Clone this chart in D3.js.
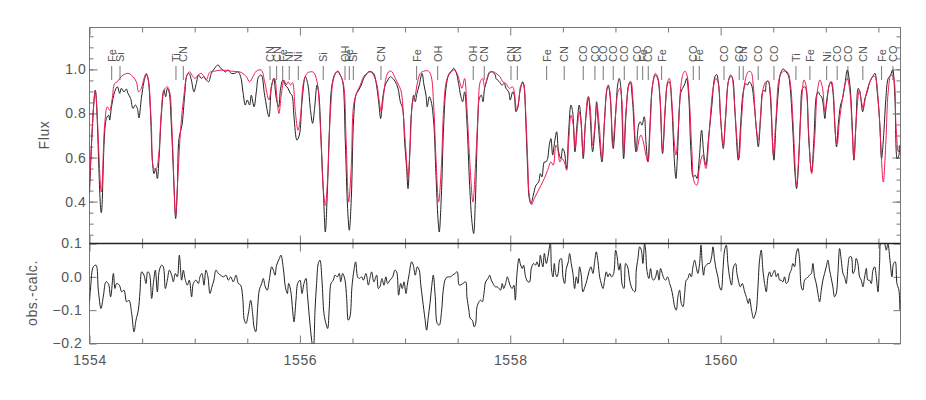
<!DOCTYPE html>
<html>
<head>
<meta charset="utf-8">
<script src="https://d3js.org/d3.v7.min.js"></script>
<style>
body { margin: 0; background: #fff; }
text { font-family: "Liberation Sans", Arial, sans-serif; fill: #555; }
</style>
</head>
<body>
<div id="chart"></div>
<script>
// observed spectrum [wavelength nm, normalised flux]
var obsSpec = [
[1554.000,0.44],[1554.055,0.906],[1554.112,0.350],[1554.160,0.777],[1554.182,0.792],[1554.192,0.770],[1554.207,0.823],[1554.239,0.898],[1554.265,0.921],[1554.287,0.891],[1554.302,0.914],[1554.328,0.898],[1554.350,0.911],[1554.366,0.891],[1554.391,0.868],[1554.413,0.823],[1554.436,0.838],[1554.455,0.823],[1554.470,0.780],[1554.493,0.868],[1554.518,0.944],[1554.540,0.977],[1554.556,0.959],[1554.578,0.823],[1554.597,0.595],[1554.613,0.527],[1554.629,0.550],[1554.645,0.505],[1554.661,0.595],[1554.683,0.792],[1554.708,0.906],[1554.724,0.876],[1554.740,0.914],[1554.756,0.898],[1554.778,0.747],[1554.803,0.474],[1554.819,0.323],[1554.835,0.459],[1554.851,0.686],[1554.879,0.747],[1554.905,0.883],[1554.927,0.974],[1554.946,0.982],[1554.968,0.952],[1554.993,0.898],[1555.015,0.936],[1555.038,0.974],[1555.063,0.959],[1555.088,0.967],[1555.111,0.952],[1555.133,0.944],[1555.158,0.982],[1555.190,1.005],[1555.221,1.020],[1555.247,1.005],[1555.269,0.997],[1555.291,0.989],[1555.317,0.997],[1555.348,0.982],[1555.380,0.982],[1555.412,0.989],[1555.437,0.967],[1555.459,0.898],[1555.481,0.838],[1555.500,0.861],[1555.522,0.838],[1555.538,0.883],[1555.564,0.830],[1555.586,0.898],[1555.608,0.967],[1555.633,0.974],[1555.665,0.883],[1555.706,0.785],[1555.728,0.914],[1555.751,0.959],[1555.776,0.868],[1555.798,0.830],[1555.817,0.914],[1555.839,0.952],[1555.861,0.929],[1555.887,0.914],[1555.909,0.891],[1555.925,0.883],[1555.944,0.785],[1555.972,0.679],[1555.995,0.702],
[1556.020,0.853],[1556.052,0.967],[1556.077,0.929],[1556.099,0.823],[1556.121,0.755],[1556.140,0.823],[1556.163,0.929],[1556.178,0.898],[1556.204,0.656],[1556.226,0.414],[1556.242,0.262],[1556.261,0.444],[1556.280,0.717],[1556.305,0.929],[1556.337,0.982],[1556.362,0.992],[1556.384,0.974],[1556.407,0.944],[1556.432,0.671],[1556.454,0.368],[1556.470,0.270],[1556.489,0.414],[1556.511,0.777],[1556.533,0.883],[1556.559,0.906],[1556.584,0.929],[1556.606,0.959],[1556.628,0.974],[1556.654,0.989],[1556.679,0.989],[1556.701,0.982],[1556.723,0.944],[1556.749,0.853],[1556.768,0.777],[1556.787,0.868],[1556.812,0.929],[1556.837,0.952],[1556.860,0.967],[1556.882,0.959],[1556.907,0.944],[1556.933,0.914],[1556.955,0.853],[1556.977,0.823],[1556.996,0.671],[1557.015,0.550],[1557.028,0.459],[1557.043,0.595],[1557.059,0.792],[1557.082,0.883],[1557.097,0.853],[1557.113,0.891],[1557.135,0.929],[1557.161,0.982],[1557.180,0.929],[1557.199,0.883],[1557.211,0.830],[1557.230,0.876],[1557.249,0.853],[1557.272,0.762],[1557.294,0.520],[1557.313,0.323],[1557.325,0.262],[1557.344,0.414],[1557.367,0.747],[1557.389,0.914],[1557.414,0.974],[1557.440,0.989],[1557.462,1.005],[1557.484,0.989],[1557.509,0.936],[1557.528,0.883],[1557.547,0.853],[1557.566,0.898],[1557.588,0.762],[1557.614,0.474],[1557.636,0.308],[1557.652,0.255],[1557.668,0.398],[1557.690,0.747],[1557.706,0.868],[1557.725,0.883],[1557.741,0.853],[1557.756,0.914],[1557.779,0.952],[1557.801,0.982],[1557.826,0.989],[1557.858,0.974],
[1557.864,0.959],[1557.896,0.944],[1557.921,0.929],[1557.943,0.936],[1557.959,0.914],[1557.985,0.898],[1558.000,0.861],[1558.023,0.898],[1558.038,0.883],[1558.054,0.808],[1558.070,0.823],[1558.092,0.898],[1558.118,0.944],[1558.133,0.914],[1558.149,0.747],[1558.165,0.550],[1558.181,0.414],[1558.197,0.391],[1558.219,0.429],[1558.244,0.474],[1558.270,0.489],[1558.286,0.527],[1558.301,0.512],[1558.324,0.580],[1558.339,0.580],[1558.355,0.595],[1558.371,0.656],[1558.387,0.686],[1558.403,0.611],[1558.422,0.671],[1558.441,0.717],[1558.460,0.626],[1558.482,0.595],[1558.498,0.641],[1558.514,0.626],[1558.536,0.550],[1558.555,0.717],[1558.577,0.838],[1558.593,0.808],[1558.615,0.626],[1558.634,0.747],[1558.656,0.838],[1558.672,0.777],[1558.694,0.595],[1558.713,0.747],[1558.735,0.853],[1558.745,0.876],[1558.761,0.777],[1558.783,0.626],[1558.805,0.732],[1558.821,0.853],[1558.840,0.732],[1558.872,0.580],[1558.894,0.747],[1558.916,0.898],[1558.932,0.929],[1558.951,0.868],[1558.979,0.641],[1559.005,0.823],[1559.021,0.929],[1559.036,0.959],[1559.052,0.914],[1559.078,0.595],[1559.100,0.792],[1559.125,0.929],[1559.141,0.944],[1559.163,0.853],[1559.195,0.626],[1559.220,0.747],[1559.236,0.762],[1559.252,0.747],[1559.274,0.785],[1559.290,0.671],[1559.309,0.580],[1559.328,0.747],[1559.353,0.929],[1559.379,0.974],[1559.401,0.959],[1559.423,0.868],[1559.448,0.618],[1559.474,0.823],[1559.496,0.936],[1559.512,0.944],[1559.537,0.823],[1559.559,0.595],[1559.575,0.505],[1559.591,0.626],[1559.607,0.823],[1559.623,0.898],[1559.639,0.914],[1559.661,0.936],[1559.677,0.959],[1559.696,0.883],[1559.718,0.626],[1559.740,0.512],[1559.759,0.520],[1559.775,0.505],[1559.797,0.595],
[1559.819,0.724],[1559.841,0.611],[1559.860,0.565],[1559.882,0.671],[1559.914,0.823],[1559.946,0.967],[1559.962,0.977],[1559.978,0.944],[1560.000,0.777],[1560.025,0.641],[1560.047,0.777],[1560.073,0.944],[1560.095,0.974],[1560.114,0.959],[1560.136,0.808],[1560.168,0.588],[1560.190,0.747],[1560.215,0.898],[1560.240,0.936],[1560.256,0.929],[1560.272,0.944],[1560.294,0.929],[1560.320,0.838],[1560.342,0.717],[1560.358,0.648],[1560.380,0.777],[1560.399,0.898],[1560.412,0.906],[1560.424,0.898],[1560.437,0.944],[1560.453,0.947],[1560.469,0.898],[1560.494,0.671],[1560.507,0.588],[1560.526,0.747],[1560.548,0.898],[1560.570,0.982],[1560.595,1.002],[1560.621,0.989],[1560.643,0.974],[1560.659,0.929],[1560.684,0.747],[1560.706,0.535],[1560.722,0.459],[1560.738,0.550],[1560.760,0.792],[1560.779,0.914],[1560.801,0.921],[1560.817,0.898],[1560.839,0.671],[1560.865,0.535],[1560.887,0.686],[1560.912,0.883],[1560.928,0.898],[1560.944,0.883],[1560.960,0.876],[1560.976,0.838],[1560.991,0.777],[1561.007,0.853],[1561.033,0.929],[1561.048,0.944],[1561.064,0.914],[1561.086,0.747],[1561.102,0.648],[1561.118,0.747],[1561.140,0.838],[1561.159,0.868],[1561.181,0.929],[1561.204,0.997],[1561.229,0.929],[1561.251,0.747],[1561.267,0.588],[1561.286,0.747],[1561.308,0.914],[1561.324,0.898],[1561.350,0.808],[1561.372,0.868],[1561.394,0.898],[1561.419,0.944],[1561.445,0.967],[1561.467,0.982],[1561.489,0.898],[1561.514,0.747],[1561.530,0.595],[1561.552,0.717],[1561.571,0.868],[1561.593,0.959],[1561.616,0.974],[1561.635,0.997],[1561.657,0.868],[1561.679,0.595],[1561.695,0.611],[1561.704,0.656]
];

// synthetic (model) spectrum
var modelSpec = [
[1554.000,0.47],[1554.055,0.898],[1554.112,0.444],[1554.144,0.747],[1554.169,0.830],[1554.192,0.815],[1554.214,0.861],[1554.239,0.936],[1554.265,0.944],[1554.287,0.959],[1554.318,0.974],[1554.366,0.982],[1554.413,0.967],[1554.445,0.944],[1554.467,0.898],[1554.493,0.914],[1554.518,0.959],[1554.540,0.982],[1554.562,0.944],[1554.588,0.747],[1554.613,0.550],[1554.635,0.550],[1554.658,0.611],[1554.683,0.808],[1554.708,0.906],[1554.740,0.921],[1554.762,0.898],[1554.784,0.732],[1554.819,0.338],[1554.841,0.520],[1554.867,0.732],[1554.898,0.883],[1554.927,0.974],[1554.952,0.989],[1554.984,0.967],[1555.006,0.959],[1555.031,0.974],[1555.063,0.982],[1555.088,0.967],[1555.111,0.952],[1555.142,0.986],[1555.190,0.992],[1555.253,0.997],[1555.348,0.992],[1555.443,0.986],[1555.491,0.967],[1555.522,0.944],[1555.554,0.967],[1555.586,0.992],[1555.633,0.997],[1555.665,0.944],[1555.706,0.861],[1555.735,0.936],[1555.760,0.959],[1555.782,0.868],[1555.801,0.800],[1555.823,0.883],[1555.849,0.952],[1555.871,0.929],[1555.887,0.944],[1555.912,0.929],[1555.930,0.940],[1555.957,0.808],[1555.982,0.724],[1556.004,0.777],[1556.036,0.944],[1556.068,0.982],[1556.099,0.989],[1556.131,0.986],[1556.163,0.944],[1556.194,0.747],[1556.220,0.474],[1556.242,0.383],[1556.264,0.505],[1556.289,0.792],[1556.321,0.959],[1556.353,0.989],[1556.384,0.974],[1556.416,0.929],[1556.438,0.701],[1556.464,0.398],[1556.489,0.565],[1556.511,0.838],[1556.543,0.898],[1556.575,0.929],[1556.606,0.967],[1556.638,0.982],[1556.670,0.989],[1556.701,0.974],[1556.733,0.929],[1556.755,0.853],[1556.774,0.808],[1556.796,0.883],[1556.822,0.967],[1556.850,0.992],[1556.875,0.989],[1556.907,0.959],[1556.939,0.929],[1556.964,0.898],[1556.986,0.777],[1557.009,0.626],[1557.028,0.512],[1557.050,0.671],[1557.072,0.853],[1557.097,0.883],[1557.113,0.929],[1557.145,0.982],[1557.177,0.992],[1557.224,0.992],[1557.249,0.967],[1557.272,0.838],[1557.294,0.595],[1557.319,0.398],[1557.344,0.550],[1557.367,0.823],[1557.392,0.944],[1557.430,0.989],[1557.462,0.997],[1557.494,0.982],[1557.519,0.944],[1557.541,0.914],[1557.566,0.959],[1557.588,0.823],[1557.614,0.595],[1557.645,0.398],[1557.668,0.550],[1557.693,0.792],[1557.715,0.944],[1557.737,0.959],[1557.756,0.921],[1557.779,0.959],[1557.804,0.989],[1557.842,0.989],
[1557.864,0.982],[1557.902,0.967],[1557.928,0.944],[1557.959,0.936],[1557.991,0.914],[1558.023,0.921],[1558.038,0.898],[1558.061,0.815],[1558.080,0.853],[1558.102,0.929],[1558.124,0.936],[1558.143,0.838],[1558.165,0.595],[1558.181,0.429],[1558.203,0.386],[1558.228,0.414],[1558.260,0.444],[1558.292,0.474],[1558.324,0.505],[1558.355,0.542],[1558.387,0.580],[1558.409,0.565],[1558.434,0.656],[1558.450,0.641],[1558.472,0.580],[1558.491,0.595],[1558.514,0.580],[1558.536,0.542],[1558.555,0.671],[1558.577,0.792],[1558.599,0.747],[1558.618,0.641],[1558.640,0.747],[1558.656,0.808],[1558.672,0.762],[1558.694,0.611],[1558.713,0.747],[1558.739,0.876],[1558.758,0.838],[1558.783,0.656],[1558.805,0.747],[1558.824,0.838],[1558.846,0.747],[1558.872,0.595],[1558.897,0.777],[1558.926,0.921],[1558.941,0.914],[1558.973,0.656],[1558.998,0.777],[1559.024,0.898],[1559.043,0.914],[1559.062,0.853],[1559.078,0.626],[1559.100,0.808],[1559.132,0.936],[1559.147,0.944],[1559.170,0.838],[1559.201,0.626],[1559.227,0.686],[1559.242,0.702],[1559.265,0.671],[1559.290,0.611],[1559.309,0.580],[1559.331,0.747],[1559.353,0.929],[1559.379,0.982],[1559.401,0.967],[1559.423,0.883],[1559.448,0.626],[1559.474,0.838],[1559.496,0.944],[1559.512,0.959],[1559.537,0.853],[1559.559,0.671],[1559.575,0.611],[1559.600,0.747],[1559.623,0.929],[1559.645,0.982],[1559.661,0.992],[1559.680,0.974],[1559.702,0.868],[1559.727,0.626],[1559.749,0.489],[1559.775,0.474],[1559.797,0.550],
[1559.829,0.611],[1559.860,0.550],[1559.892,0.717],[1559.924,0.898],[1559.955,0.959],[1559.978,0.936],[1560.000,0.777],[1560.025,0.656],[1560.050,0.808],[1560.082,0.959],[1560.104,0.967],[1560.126,0.883],[1560.152,0.701],[1560.174,0.595],[1560.199,0.777],[1560.231,0.944],[1560.263,0.989],[1560.288,0.989],[1560.310,0.929],[1560.336,0.747],[1560.358,0.679],[1560.380,0.792],[1560.405,0.914],[1560.431,0.944],[1560.453,0.944],[1560.475,0.883],[1560.500,0.611],[1560.526,0.777],[1560.557,0.959],[1560.589,0.989],[1560.621,0.992],[1560.643,0.982],[1560.665,0.929],[1560.690,0.747],[1560.722,0.474],[1560.747,0.641],[1560.770,0.853],[1560.792,0.952],[1560.811,0.929],[1560.833,0.747],[1560.865,0.527],[1560.896,0.701],[1560.919,0.898],[1560.944,0.952],[1560.969,0.914],[1560.991,0.808],[1561.007,0.838],[1561.033,0.929],[1561.055,0.944],[1561.071,0.898],[1561.096,0.686],[1561.109,0.664],[1561.128,0.762],[1561.159,0.868],[1561.181,0.929],[1561.204,0.959],[1561.229,0.898],[1561.251,0.717],[1561.267,0.595],[1561.292,0.792],[1561.318,0.906],[1561.334,0.868],[1561.356,0.823],[1561.381,0.883],[1561.413,0.936],[1561.445,0.967],[1561.467,0.967],[1561.499,0.853],[1561.521,0.671],[1561.546,0.489],[1561.571,0.671],[1561.593,0.898],[1561.619,0.974],[1561.641,0.967],[1561.667,0.747],[1561.689,0.626],[1561.704,0.656]
];

// obs - calc
var residSpec = [
[1554.000,-0.075],[1554.011,-0.030],[1554.036,0.030],[1554.062,0.035],[1554.084,-0.040],[1554.109,-0.095],[1554.131,-0.060],[1554.157,-0.015],[1554.179,-0.020],[1554.201,-0.060],[1554.227,0.010],[1554.242,-0.035],[1554.258,-0.020],[1554.284,-0.025],[1554.306,-0.045],[1554.328,-0.040],[1554.353,-0.075],[1554.375,-0.070],[1554.401,-0.110],[1554.423,-0.165],[1554.442,-0.130],[1554.464,-0.100],[1554.480,-0.045],[1554.496,0.015],[1554.518,0.005],[1554.537,-0.020],[1554.553,0.015],[1554.569,0.010],[1554.591,-0.065],[1554.607,-0.020],[1554.626,0.020],[1554.645,-0.045],[1554.664,0.020],[1554.686,0.035],[1554.702,0.030],[1554.721,-0.035],[1554.740,-0.010],[1554.759,0.020],[1554.781,0.005],[1554.797,-0.015],[1554.816,0.010],[1554.835,0.000],[1554.854,0.065],[1554.876,-0.010],[1554.892,0.020],[1554.908,-0.005],[1554.930,-0.025],[1554.949,-0.010],[1554.971,-0.060],[1554.987,-0.020],[1555.012,-0.010],[1555.035,-0.020],[1555.050,0.000],[1555.069,0.010],[1555.088,-0.025],[1555.107,0.020],[1555.126,0.000],[1555.145,-0.050],[1555.164,-0.030],[1555.183,-0.010],[1555.202,0.020],[1555.225,0.010],[1555.247,0.005],[1555.272,0.000],[1555.298,0.005],[1555.320,-0.010],[1555.342,0.000],[1555.367,-0.015],[1555.393,0.005],[1555.415,-0.020],[1555.437,-0.025],[1555.456,-0.060],[1555.472,-0.130],[1555.488,-0.140],[1555.510,-0.110],[1555.532,-0.070],[1555.551,-0.110],[1555.564,-0.150],[1555.580,-0.165],[1555.599,-0.090],[1555.614,-0.040],[1555.637,-0.020],[1555.652,-0.005],[1555.671,-0.030],[1555.690,-0.040],[1555.709,-0.010],[1555.732,0.030],[1555.748,0.020],[1555.763,0.005],[1555.779,0.035],[1555.805,0.055],[1555.820,0.065],[1555.843,0.025],[1555.862,-0.030],[1555.881,-0.050],[1555.893,-0.020],[1555.912,-0.040],[1555.931,-0.100],[1555.944,-0.135],[1555.963,-0.070],[1555.979,-0.020],
[1556.001,-0.010],[1556.020,-0.050],[1556.039,-0.020],[1556.058,-0.005],[1556.071,-0.050],[1556.090,-0.120],[1556.112,-0.190],[1556.128,-0.220],[1556.144,-0.100],[1556.159,-0.020],[1556.175,0.040],[1556.191,0.050],[1556.210,-0.010],[1556.229,-0.110],[1556.248,-0.140],[1556.264,-0.155],[1556.280,-0.090],[1556.296,-0.020],[1556.318,-0.010],[1556.334,0.005],[1556.356,0.000],[1556.375,0.010],[1556.388,-0.015],[1556.407,0.010],[1556.429,-0.010],[1556.445,-0.065],[1556.460,-0.130],[1556.476,-0.120],[1556.495,-0.030],[1556.514,0.020],[1556.530,0.045],[1556.549,0.000],[1556.565,-0.005],[1556.587,0.000],[1556.603,-0.010],[1556.628,0.010],[1556.651,-0.025],[1556.666,-0.005],[1556.682,0.015],[1556.704,-0.015],[1556.730,0.005],[1556.746,-0.035],[1556.761,-0.030],[1556.780,-0.005],[1556.799,-0.025],[1556.818,0.000],[1556.834,-0.020],[1556.857,-0.010],[1556.882,0.000],[1556.904,0.020],[1556.920,0.015],[1556.939,-0.055],[1556.958,-0.020],[1556.974,-0.035],[1556.990,-0.015],[1557.009,-0.050],[1557.021,-0.025],[1557.040,0.010],[1557.062,0.045],[1557.078,0.035],[1557.097,0.005],[1557.116,0.030],[1557.135,0.020],[1557.148,-0.020],[1557.167,-0.070],[1557.189,-0.125],[1557.205,-0.160],[1557.221,-0.120],[1557.237,-0.080],[1557.253,-0.030],[1557.268,0.005],[1557.287,-0.060],[1557.306,-0.140],[1557.325,-0.145],[1557.348,-0.100],[1557.363,-0.040],[1557.386,-0.005],[1557.411,0.000],[1557.433,0.000],[1557.452,0.005],[1557.474,0.010],[1557.496,0.015],[1557.516,-0.025],[1557.550,-0.020],[1557.576,-0.015],[1557.588,-0.060],[1557.607,-0.100],[1557.620,-0.125],[1557.639,-0.130],[1557.658,-0.150],[1557.671,-0.140],[1557.684,-0.090],[1557.703,-0.075],[1557.718,-0.070],[1557.734,-0.075],[1557.750,-0.050],[1557.766,-0.015],[1557.788,-0.005],[1557.804,0.005],[1557.820,-0.010],[1557.836,-0.020],[1557.858,-0.030],[1557.877,-0.030],[1557.893,-0.035],[1557.908,-0.040],[1557.924,-0.020],[1557.937,-0.035],[1557.956,-0.020],[1557.972,0.000],[1557.988,-0.015],
[1558.004,-0.030],[1558.019,-0.035],[1558.035,-0.025],[1558.048,-0.070],[1558.064,0.010],[1558.083,0.055],[1558.095,0.040],[1558.114,0.025],[1558.127,0.035],[1558.146,0.000],[1558.168,-0.015],[1558.184,-0.015],[1558.200,0.025],[1558.222,0.040],[1558.241,0.035],[1558.254,0.045],[1558.273,0.030],[1558.286,0.065],[1558.298,0.045],[1558.311,0.030],[1558.324,0.070],[1558.343,0.040],[1558.358,0.060],[1558.381,0.100],[1558.393,0.020],[1558.406,0.000],[1558.419,0.040],[1558.431,0.010],[1558.444,0.000],[1558.457,0.015],[1558.469,0.050],[1558.485,0.055],[1558.501,0.000],[1558.517,-0.020],[1558.533,0.025],[1558.552,0.045],[1558.564,0.070],[1558.580,0.040],[1558.596,0.010],[1558.612,-0.035],[1558.628,0.000],[1558.644,-0.020],[1558.659,0.030],[1558.675,0.005],[1558.691,-0.045],[1558.710,-0.030],[1558.729,-0.010],[1558.748,0.015],[1558.767,0.030],[1558.786,0.010],[1558.802,0.045],[1558.818,0.075],[1558.834,0.045],[1558.850,0.000],[1558.865,-0.020],[1558.881,-0.035],[1558.897,-0.010],[1558.913,0.015],[1558.929,0.000],[1558.945,0.010],[1558.964,0.000],[1558.983,0.010],[1559.002,0.080],[1559.014,0.065],[1559.033,0.020],[1559.046,0.040],[1559.065,-0.025],[1559.081,-0.035],[1559.097,0.040],[1559.116,0.030],[1559.135,-0.010],[1559.151,-0.030],[1559.166,-0.040],[1559.185,-0.045],[1559.198,0.020],[1559.214,0.055],[1559.230,0.090],[1559.246,0.080],[1559.261,0.040],[1559.277,0.100],[1559.287,0.080],[1559.299,0.020],[1559.318,-0.005],[1559.334,0.025],[1559.350,-0.005],[1559.363,-0.010],[1559.382,0.000],[1559.398,0.020],[1559.414,-0.010],[1559.429,0.025],[1559.445,0.010],[1559.461,-0.005],[1559.477,-0.010],[1559.496,0.000],[1559.515,-0.020],[1559.531,-0.035],[1559.547,-0.060],[1559.563,-0.090],[1559.578,-0.100],[1559.594,-0.060],[1559.610,-0.040],[1559.626,-0.080],[1559.642,-0.090],[1559.658,-0.050],[1559.673,-0.010],[1559.689,-0.005],[1559.705,0.010],[1559.721,0.000],[1559.737,0.030],[1559.753,0.050],[1559.768,0.030],[1559.784,0.010],[1559.800,0.040],[1559.813,0.095],[1559.825,0.040],[1559.838,0.005],[1559.851,0.030],[1559.864,0.035],[1559.879,0.040],[1559.895,0.040],[1559.914,0.060],[1559.927,0.090],[1559.943,0.050],[1559.959,0.020],[1559.974,0.000],[1559.990,-0.030],
[1560.006,-0.040],[1560.022,0.020],[1560.038,0.080],[1560.054,0.095],[1560.069,0.040],[1560.085,0.000],[1560.104,-0.025],[1560.123,0.030],[1560.142,0.040],[1560.155,0.010],[1560.168,-0.010],[1560.187,-0.030],[1560.206,-0.020],[1560.228,-0.045],[1560.244,-0.060],[1560.263,-0.080],[1560.275,-0.065],[1560.294,-0.100],[1560.313,-0.125],[1560.326,-0.115],[1560.339,-0.100],[1560.355,-0.030],[1560.370,0.050],[1560.386,0.080],[1560.402,0.020],[1560.418,-0.020],[1560.434,-0.045],[1560.450,0.000],[1560.466,0.015],[1560.481,0.000],[1560.497,0.010],[1560.513,0.020],[1560.529,0.000],[1560.545,0.010],[1560.561,-0.010],[1560.576,-0.010],[1560.592,-0.015],[1560.608,0.000],[1560.624,-0.020],[1560.640,-0.015],[1560.656,0.010],[1560.671,0.020],[1560.687,0.040],[1560.703,0.030],[1560.719,0.070],[1560.735,0.085],[1560.751,0.050],[1560.767,-0.030],[1560.782,-0.040],[1560.798,-0.010],[1560.814,-0.005],[1560.830,0.000],[1560.846,0.005],[1560.862,0.010],[1560.877,0.040],[1560.893,0.000],[1560.909,-0.020],[1560.925,-0.050],[1560.941,-0.075],[1560.957,-0.040],[1560.972,-0.010],[1560.988,0.010],[1561.004,0.030],[1561.020,0.050],[1561.036,0.020],[1561.052,-0.005],[1561.067,-0.030],[1561.083,-0.060],[1561.099,-0.050],[1561.115,0.010],[1561.131,0.085],[1561.147,0.050],[1561.163,0.010],[1561.178,0.000],[1561.194,-0.020],[1561.210,0.030],[1561.226,0.060],[1561.242,0.060],[1561.258,0.010],[1561.274,0.020],[1561.289,0.055],[1561.305,0.040],[1561.321,0.000],[1561.337,-0.010],[1561.353,-0.030],[1561.369,0.000],[1561.385,0.025],[1561.400,-0.010],[1561.416,-0.010],[1561.432,-0.020],[1561.448,0.020],[1561.464,0.030],[1561.480,0.000],[1561.496,-0.045],[1561.511,0.040],[1561.527,0.110],[1561.549,0.110],[1561.575,0.080],[1561.590,0.100],[1561.613,0.040],[1561.629,0.000],[1561.644,0.040],[1561.660,0.045],[1561.676,-0.020],[1561.695,-0.040],[1561.704,-0.100]
];

// line identifications
var lineWave = [1554.211,1554.290,1554.822,1554.892,1555.716,1555.779,1555.837,1555.899,1555.985,1556.222,1556.429,1556.470,1556.508,1556.771,1557.110,1557.310,1557.648,1557.753,1558.007,1558.067,1558.346,1558.513,1558.694,1558.805,1558.884,1558.979,1559.084,1559.207,1559.259,1559.312,1559.439,1559.740,1559.797,1560.032,1560.177,1560.215,1560.357,1560.507,1560.716,1560.849,1561.008,1561.108,1561.210,1561.352,1561.530,1561.638];
var lineName = ["Fe","Si","Ti","CN","CN","CN","Fe","Ni","Ni","Si","OH","Fe","Si","CN","Fe","OH","OH","CN","CN","CN","Fe","CN","CO","CO","CO","CO","CO","CO","Fe","CO","Fe","CO","Fe","CO","CO","CN","CO","CO","Ti","Fe","Ni","CO","CO","CN","Fe","CO"];

var xLabels = [1554, 1556, 1558, 1560];
var fluxLabels = [0.4, 0.6, 0.8, 1.0];
var residLabels = [0.1, 0.0, -0.1, -0.2];

var width = 926, height = 400;
var left = 89.5, right = 900.5, topY = 27.5, midY = 243.5, botY = 343.5;

var svg = d3.select("#chart").append("svg")
    .attr("width", width)
    .attr("height", height);

var x = d3.scaleLinear().domain([1554, 1561.71]).range([left, right]);
var yTop = d3.scaleLinear().domain([0.21, 1.19]).range([midY, topY]);
var yBot = d3.scaleLinear().domain([-0.2, 0.1]).range([botY, midY]);

var defs = svg.append("defs");
defs.append("clipPath").attr("id", "clipTop").append("rect")
    .attr("x", left).attr("y", topY).attr("width", right - left).attr("height", midY - topY);
defs.append("clipPath").attr("id", "clipBot").append("rect")
    .attr("x", left).attr("y", midY).attr("width", right - left).attr("height", botY - midY);

var minorX = d3.range(1554, 1561.71, 0.5);
var minorFlux = d3.range(0.25, 1.19, 0.05);

function styleAxis(g) {
    g.select(".domain").remove();
    g.selectAll(".tick line").attr("stroke", "#777");
    g.selectAll(".tick text").style("font-size", "14px").style("letter-spacing", "0.6px").attr("fill", "#555");
}

// x ticks on every horizontal edge
function xTicks(y, dir, major) {
    var axis = dir < 0 ? d3.axisTop(x) : d3.axisBottom(x);
    svg.append("g").attr("transform", "translate(0," + y + ")")
        .call(axis.tickValues(minorX.filter(function (d) { return xLabels.indexOf(d) < 0; })).tickSize(-5).tickFormat(""))
        .call(styleAxis);
    svg.append("g").attr("transform", "translate(0," + y + ")")
        .call(axis.tickValues(xLabels).tickSize(-8).tickFormat(""))
        .call(styleAxis);
}
xTicks(topY, -1);
xTicks(midY, 1);
xTicks(midY, -1);
svg.append("g").attr("transform", "translate(0," + botY + ")")
    .call(d3.axisBottom(x).tickValues(minorX.filter(function (d) { return xLabels.indexOf(d) < 0; })).tickSize(-5).tickFormat(""))
    .call(styleAxis);
svg.append("g").attr("transform", "translate(0," + botY + ")")
    .call(d3.axisBottom(x).tickValues(xLabels).tickSize(-8).tickPadding(12).tickFormat(d3.format("d")))
    .call(styleAxis);

// flux axis, left and right
svg.append("g").attr("transform", "translate(" + left + ",0)")
    .call(d3.axisLeft(yTop).tickValues(minorFlux).tickSize(-4).tickFormat(""))
    .call(styleAxis);
svg.append("g").attr("transform", "translate(" + left + ",0)")
    .call(d3.axisLeft(yTop).tickValues(fluxLabels).tickSize(-8).tickPadding(3).tickFormat(d3.format(".1f")))
    .call(styleAxis);
svg.append("g").attr("transform", "translate(" + right + ",0)")
    .call(d3.axisRight(yTop).tickValues(minorFlux).tickSize(-4).tickFormat(""))
    .call(styleAxis);
svg.append("g").attr("transform", "translate(" + right + ",0)")
    .call(d3.axisRight(yTop).tickValues(fluxLabels).tickSize(-8).tickFormat(""))
    .call(styleAxis);

// residual axis
svg.append("g").attr("transform", "translate(" + left + ",0)")
    .call(d3.axisLeft(yBot).tickValues(residLabels).tickSize(-7).tickPadding(7).tickFormat(d3.format(".1f")))
    .call(styleAxis);
svg.append("g").attr("transform", "translate(" + right + ",0)")
    .call(d3.axisRight(yBot).tickValues(residLabels).tickSize(-7).tickFormat(""))
    .call(styleAxis);

// frame
svg.append("rect")
    .attr("x", left).attr("y", topY)
    .attr("width", right - left).attr("height", botY - topY)
    .attr("fill", "none").attr("stroke", "#777");
svg.append("line")
    .attr("x1", left).attr("x2", right).attr("y1", midY).attr("y2", midY)
    .attr("stroke", "#222").attr("stroke-width", 1.3);

// axis titles
svg.append("text")
    .attr("transform", "translate(49,135) rotate(-90)")
    .attr("text-anchor", "middle")
    .style("font-size", "14px").style("letter-spacing", "0.6px")
    .text("Flux");
svg.append("text")
    .attr("transform", "translate(37,293) rotate(-90)")
    .attr("text-anchor", "middle")
    .style("font-size", "14px").style("letter-spacing", "0.6px")
    .text("obs.-calc.");

// line ids
var ids = svg.append("g");
ids.selectAll("line").data(lineWave).enter().append("line")
    .attr("x1", function (d) { return x(d); })
    .attr("x2", function (d) { return x(d); })
    .attr("y1", 66).attr("y2", 80)
    .attr("stroke", "#777");
ids.selectAll("text").data(lineWave).enter().append("text")
    .attr("transform", function (d) { return "translate(" + (x(d) + 4) + ",62) rotate(-90)"; })
    .style("font-size", "11px")
    .text(function (d, i) { return lineName[i]; });

// spectra
var lineTop = d3.line()
    .x(function (d) { return x(d[0]); })
    .y(function (d) { return yTop(d[1]); })
    .curve(d3.curveCatmullRom.alpha(0.5));

var topG = svg.append("g").attr("clip-path", "url(#clipTop)");
topG.append("path").datum(obsSpec)
    .attr("d", lineTop)
    .attr("fill", "none").attr("stroke", "#222").attr("stroke-width", 1);
topG.append("path").datum(modelSpec)
    .attr("d", lineTop)
    .attr("fill", "none").attr("stroke", "#ee1d55").attr("stroke-width", 1);

var lineBot = d3.line()
    .x(function (d) { return x(d[0]); })
    .y(function (d) { return yBot(d[1]); })
    .curve(d3.curveCatmullRom.alpha(0.5));

svg.append("g").attr("clip-path", "url(#clipBot)")
    .append("path").datum(residSpec)
    .attr("d", lineBot)
    .attr("fill", "none").attr("stroke", "#222").attr("stroke-width", 1);
</script>
</body>
</html>
